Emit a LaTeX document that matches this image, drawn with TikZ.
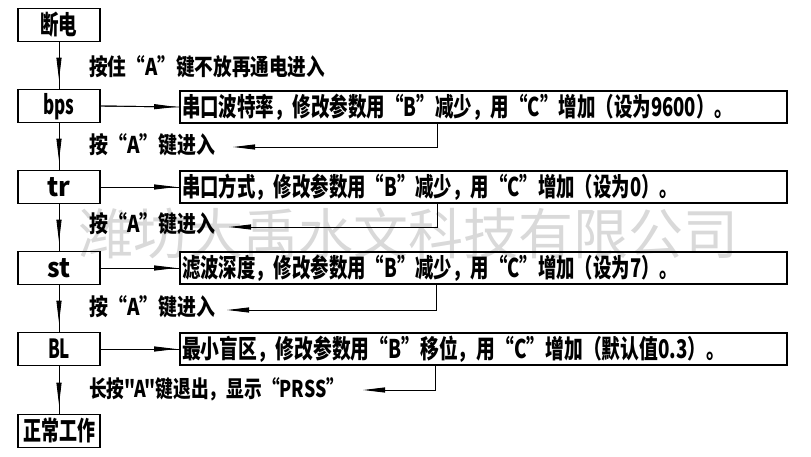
\documentclass[tikz,border=0pt]{standalone}
\usepackage{fontspec}
\usepackage{graphicx}
\newfontfamily\cjk{Noto Sans CJK SC}
\usetikzlibrary{arrows.meta}
\newcommand\fitt[2]{\resizebox{#1}{22.5pt}{\vphantom{串}#2}}
\newcommand\fitl[2]{\resizebox{#1}{20pt}{\vphantom{串}#2}}
\begin{document}
\begin{tikzpicture}[x=1pt,y=-1pt,
  lbox/.style={draw, line width=1.6pt, minimum width=82pt, minimum height=33pt, inner sep=0pt},
  rbox/.style={draw, line width=1.6pt, minimum width=607pt, minimum height=32pt, inner xsep=2pt, inner ysep=0pt, text width=603pt, align=left},
  conn/.style={line width=0.9pt},
  arr/.style={conn, -{Triangle[length=22pt,width=5pt]}},
  lab/.style={anchor=west, inner sep=0pt},
  font=\cjk\bfseries]
\useasboundingbox (0,0) rectangle (811,457);
% watermark
\node[text=black!15, font=\cjk\fontsize{55}{55}\selectfont, inner sep=0pt] (wm) at (408,233) {潍坊大禹水文科技有限公司};
% left boxes
\node[lbox] (n0) at (59,25)  {\fitt{37pt}{断电}};
\node[lbox] (n1) at (59,106) {\fitt{31pt}{bps}};
\node[lbox] (n2) at (59,187) {\fitt{23pt}{tr}};
\node[lbox] (n3) at (59,268) {\fitt{23pt}{st}};
\node[lbox] (n4) at (59,349) {\fitt{22pt}{BL}};
\node[lbox] (n5) at (59,431) {\fitt{72pt}{正常工作}};
% right boxes
\node[rbox] (r1) at (483.5,107) {\fitt{551pt}{串口波特率，修改参数用“B”减少，用“C”增加（设为9600）。}};
\node[rbox] (r2) at (483.5,187) {\fitt{496pt}{串口方式，修改参数用“B”减少，用“C”增加（设为0）。}};
\node[rbox] (r3) at (483.5,268) {\fitt{496pt}{滤波深度，修改参数用“B”减少，用“C”增加（设为7）。}};
\node[rbox] (r4) at (483.5,349) {\fitt{543pt}{最小盲区，修改参数用“B”移位，用“C”增加（默认值0.3）。}};
% labels
\node[lab] (l0) at (89,67)  {\fitl{236pt}{按住“A”键不放再通电进入}};
\node[lab] (l1) at (89,145) {\fitl{126pt}{按“A”键进入}};
\node[lab] (l2) at (89,224) {\fitl{126pt}{按“A”键进入}};
\node[lab] (l3) at (89,307) {\fitl{126pt}{按“A”键进入}};
\node[lab] (l4) at (89,389) {\fitl{255pt}{长按"A"键退出，显示“PRSS”}};
% vertical connectors
\foreach \a/\b in {n0/n1,n1/n2,n2/n3,n3/n4,n4/n5}{
  \draw[conn] (\a.south) -- (\b.north);
  \draw[arr, shorten >=9pt] (\a.south) -- (\b.north);
}
% horizontal connectors
\foreach \a/\b in {n1/r1,n2/r2,n3/r3,n4/r4}{
  \draw[conn] (\a.east) -- (\b.west);
  \draw[arr, shorten >=3pt] (\a.east) -- (\b.west);
}
% feedback connectors
\coordinate (k1) at (437,147); \coordinate (e1) at (233,147);
\coordinate (k2) at (437,227); \coordinate (e2) at (229,227);
\coordinate (k3) at (436,310); \coordinate (e3) at (227,310);
\coordinate (k4) at (435,390); \coordinate (e4) at (363,390);
\draw[arr] (r1.south -| k1) -- (k1) -- (e1);
\draw[arr] (r2.south -| k2) -- (k2) -- (e2);
\draw[arr] (r3.south -| k3) -- (k3) -- (e3);
\draw[arr] (r4.south -| k4) -- (k4) -- (e4);
\end{tikzpicture}
\end{document}
